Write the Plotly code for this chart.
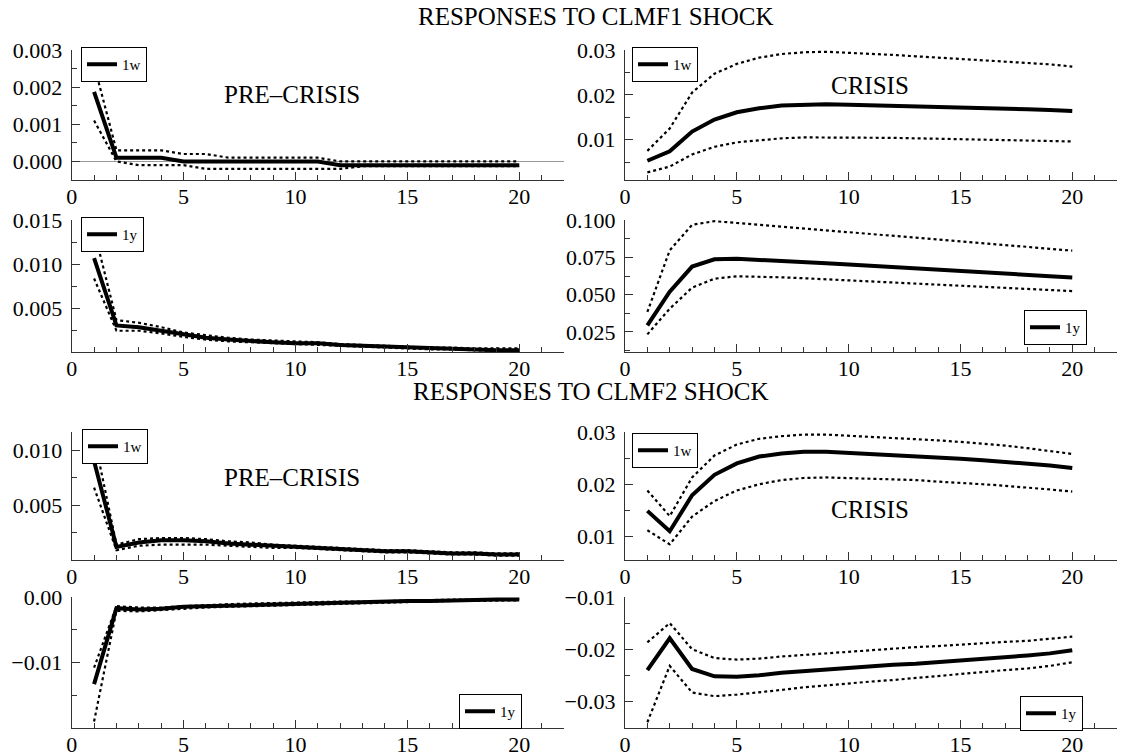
import plotly.graph_objects as go

horizon = list(range(1, 21))

# CLMF1 shock, pre-crisis, 1w
p1_mid = [0.00187, 0.0001, 0.0001, 0.0001, 0.0, 0.0, 0.0, 0.0, 0.0, 0.0, 0.0, -0.0001, -0.0001, -0.0001, -0.0001, -0.0001, -0.0001, -0.0001, -0.0001, -0.0001]
p1_up = [0.0026, 0.0003, 0.0003, 0.0003, 0.0002, 0.0002, 0.0001, 0.0001, 0.0001, 0.0001, 0.0001, 0.0, 0.0, 0.0, 0.0, 0.0, 0.0, 0.0, 0.0, 0.0]
p1_lo = [0.0011, 0.0, -0.0001, -0.0001, -0.0001, -0.0002, -0.0002, -0.0002, -0.0002, -0.0002, -0.0002, -0.0002, -0.00013, -0.00013, -0.00013, -0.00013, -0.00013, -0.00013, -0.00013, -0.00013]
# CLMF1 shock, crisis, 1w
p2_mid = [0.0053, 0.0074, 0.0118, 0.0145, 0.0161, 0.0170, 0.0176, 0.0178, 0.0179, 0.0178, 0.0177, 0.0176, 0.0175, 0.0174, 0.0173, 0.0171, 0.0170, 0.0168, 0.0166, 0.0164]
p2_up = [0.0075, 0.0125, 0.0205, 0.0247, 0.0269, 0.0283, 0.0291, 0.0295, 0.0296, 0.0294, 0.0292, 0.0289, 0.0286, 0.0283, 0.0281, 0.0278, 0.0275, 0.0272, 0.0268, 0.0263]
p2_lo = [0.0027, 0.0040, 0.0067, 0.0084, 0.0094, 0.0099, 0.0103, 0.0105, 0.0105, 0.0105, 0.0104, 0.0104, 0.0103, 0.0102, 0.0101, 0.0100, 0.0099, 0.0098, 0.0097, 0.0096]
# CLMF1 shock, pre-crisis, 1y
p3_mid = [0.0107, 0.0031, 0.0029, 0.0025, 0.0020, 0.0017, 0.0015, 0.0013, 0.0012, 0.0011, 0.0011, 0.0009, 0.0008, 0.0007, 0.0006, 0.0005, 0.0005, 0.0004, 0.0003, 0.0003]
p3_up = [0.0138, 0.0037, 0.0034, 0.0029, 0.0023, 0.0020, 0.0017, 0.0015, 0.0014, 0.0013, 0.0012, 0.0010, 0.0009, 0.0008, 0.0007, 0.0006, 0.0006, 0.0005, 0.0005, 0.0005]
p3_lo = [0.0084, 0.0025, 0.0025, 0.0022, 0.0018, 0.0015, 0.0013, 0.0012, 0.0011, 0.0010, 0.0009, 0.0008, 0.0007, 0.0006, 0.0005, 0.0004, 0.0004, 0.0003, 0.0002, 0.0002]
# CLMF1 shock, crisis, 1y
p4_mid = [0.0295, 0.0520, 0.0688, 0.0737, 0.0740, 0.0734, 0.0726, 0.0718, 0.0710, 0.0702, 0.0694, 0.0686, 0.0678, 0.0670, 0.0660, 0.0651, 0.0642, 0.0633, 0.0624, 0.0615]
p4_up = [0.0384, 0.0797, 0.0968, 0.0992, 0.0980, 0.0968, 0.0955, 0.0943, 0.0931, 0.0918, 0.0906, 0.0894, 0.0881, 0.0869, 0.0857, 0.0844, 0.0832, 0.0820, 0.0807, 0.0795]
p4_lo = [0.0234, 0.0406, 0.0547, 0.0607, 0.0623, 0.0621, 0.0616, 0.0610, 0.0603, 0.0596, 0.0589, 0.0582, 0.0575, 0.0568, 0.0561, 0.0554, 0.0547, 0.0540, 0.0532, 0.0524]
# CLMF2 shock, pre-crisis, 1w
p5_mid = [0.0090, 0.0012, 0.0016, 0.0018, 0.0018, 0.0017, 0.0015, 0.0014, 0.0013, 0.0012, 0.0011, 0.0010, 0.0009, 0.0008, 0.0008, 0.0007, 0.0006, 0.0006, 0.0005, 0.0005]
p5_up = [0.0112, 0.0014, 0.0019, 0.0020, 0.0020, 0.0019, 0.0017, 0.0016, 0.0014, 0.0013, 0.0012, 0.0011, 0.0010, 0.0009, 0.0009, 0.0008, 0.0007, 0.0007, 0.0006, 0.0006]
p5_lo = [0.0066, 0.0009, 0.0013, 0.0014, 0.0014, 0.0014, 0.0013, 0.0012, 0.0011, 0.0011, 0.0010, 0.0009, 0.0008, 0.0007, 0.0007, 0.0006, 0.0005, 0.0005, 0.0004, 0.0004]
# CLMF2 shock, crisis, 1w
p6_mid = [0.0149, 0.0110, 0.0179, 0.0218, 0.0240, 0.0253, 0.0259, 0.0262, 0.0262, 0.0260, 0.0258, 0.0256, 0.0254, 0.0251, 0.0249, 0.0246, 0.0243, 0.0240, 0.0236, 0.0231]
p6_up = [0.0188, 0.0139, 0.0213, 0.0255, 0.0276, 0.0287, 0.0292, 0.0295, 0.0295, 0.0293, 0.0291, 0.0289, 0.0287, 0.0284, 0.0281, 0.0278, 0.0274, 0.0269, 0.0264, 0.0258]
p6_lo = [0.0112, 0.0085, 0.0138, 0.0168, 0.0188, 0.0200, 0.0208, 0.0212, 0.0213, 0.0212, 0.0211, 0.0210, 0.0208, 0.0205, 0.0203, 0.0200, 0.0197, 0.0194, 0.0190, 0.0186]
# CLMF2 shock, pre-crisis, 1y
p7_mid = [-0.0133, -0.0017, -0.0019, -0.0018, -0.0015, -0.0014, -0.0013, -0.0012, -0.0011, -0.0010, -0.0009, -0.0009, -0.0008, -0.0007, -0.0006, -0.0006, -0.0005, -0.0004, -0.0004, -0.0004]
p7_up = [-0.0108, -0.0014, -0.0016, -0.0016, -0.0014, -0.0012, -0.0011, -0.0010, -0.0009, -0.0009, -0.0008, -0.0007, -0.0007, -0.0006, -0.0005, -0.0005, -0.0004, -0.0004, -0.0003, -0.0003]
p7_lo = [-0.0190, -0.0021, -0.0022, -0.0020, -0.0017, -0.0016, -0.0015, -0.0014, -0.0013, -0.0012, -0.0011, -0.0010, -0.0009, -0.0008, -0.0008, -0.0007, -0.0006, -0.0006, -0.0005, -0.0005]
# CLMF2 shock, crisis, 1y
p8_mid = [-0.0240, -0.0179, -0.0238, -0.0252, -0.0253, -0.0250, -0.0245, -0.0242, -0.0238, -0.0235, -0.0233, -0.0230, -0.0228, -0.0225, -0.0222, -0.0218, -0.0215, -0.0212, -0.0208, -0.0202]
p8_up = [-0.0187, -0.0150, -0.0200, -0.0217, -0.0220, -0.0218, -0.0214, -0.0211, -0.0207, -0.0204, -0.0201, -0.0199, -0.0196, -0.0194, -0.0191, -0.0189, -0.0186, -0.0184, -0.0180, -0.0176]
p8_lo = [-0.0340, -0.0232, -0.0283, -0.0290, -0.0287, -0.0283, -0.0278, -0.0273, -0.0269, -0.0265, -0.0262, -0.0259, -0.0255, -0.0251, -0.0248, -0.0244, -0.0240, -0.0237, -0.0232, -0.0225]

series_names = ["1w", "1w", "1y", "1y", "1w", "1w", "1y", "1y"]
section_titles = ["RESPONSES TO CLMF1 SHOCK", "RESPONSES TO CLMF2 SHOCK"]
period_labels = ["PRE\u2013CRISIS", "CRISIS"]

x_ticks = [0, 5, 10, 15, 20]

panels = [
    (p1_mid, p1_up, p1_lo),
    (p2_mid, p2_up, p2_lo),
    (p3_mid, p3_up, p3_lo),
    (p4_mid, p4_up, p4_lo),
    (p5_mid, p5_up, p5_lo),
    (p6_mid, p6_up, p6_lo),
    (p7_mid, p7_up, p7_lo),
    (p8_mid, p8_up, p8_lo),
]

y_ranges = [
    [-0.0005, 0.003], [0.001, 0.03],
    [0.0001, 0.015], [0.0116, 0.1],
    [0.0, 0.01167], [0.0055, 0.03],
    [-0.02, 0.0], [-0.0351, -0.01],
]
y_ticks = [
    [0.0, 0.001, 0.002, 0.003], [0.01, 0.02, 0.03],
    [0.005, 0.010, 0.015], [0.025, 0.050, 0.075, 0.100],
    [0.005, 0.010], [0.01, 0.02, 0.03],
    [-0.01, 0.0], [-0.03, -0.02, -0.01],
]
y_fmt = [".3f", ".2f", ".3f", ".3f", ".3f", ".2f", ".2f", ".2f"]
y_minor = [0.0005, 0.005, 0.0025, 0.0125, 0.0025, 0.005, 0.005, 0.005]

W, H = 1123, 756
col_px = [(71.7, 564), (625, 1117)]
row_px = [(50, 180), (220, 352), (432, 560), (597, 728)]

legend_pos = [
    dict(x=81 / W, y=1 - 47 / H, xanchor="left", yanchor="top"),
    dict(x=632 / W, y=1 - 47 / H, xanchor="left", yanchor="top"),
    dict(x=81 / W, y=1 - 217 / H, xanchor="left", yanchor="top"),
    dict(x=1087 / W, y=1 - 345 / H, xanchor="right", yanchor="bottom"),
    dict(x=82 / W, y=1 - 429 / H, xanchor="left", yanchor="top"),
    dict(x=632 / W, y=1 - 433 / H, xanchor="left", yanchor="top"),
    dict(x=522 / W, y=1 - 729 / H, xanchor="right", yanchor="bottom"),
    dict(x=1083 / W, y=1 - 731 / H, xanchor="right", yanchor="bottom"),
]

FONT = "Liberation Serif"
TICK_SIZE = 22
TEXT_SIZE = 25
fig = go.Figure()
layout = dict(
    template="none",
    width=W, height=H,
    margin=dict(l=0, r=0, t=0, b=0, pad=0, autoexpand=False),
    paper_bgcolor="white", plot_bgcolor="white",
    font=dict(family=FONT, size=TICK_SIZE, color="black"),
    showlegend=True,
)

for i, (mid, up, lo) in enumerate(panels):
    k = i + 1
    xa = "x" if k == 1 else f"x{k}"
    ya = "y" if k == 1 else f"y{k}"
    lg = "legend" if k == 1 else f"legend{k}"
    for band in (up, lo):
        fig.add_trace(go.Scatter(x=horizon, y=band, mode="lines", xaxis=xa, yaxis=ya,
                                 line=dict(color="black", width=2.2, dash="dot"),
                                 showlegend=False, hoverinfo="skip", legend=lg))
    fig.add_trace(go.Scatter(x=horizon, y=mid, mode="lines", xaxis=xa, yaxis=ya,
                             line=dict(color="black", width=4), name=series_names[i],
                             showlegend=True, legend=lg))
    r, c = divmod(i, 2)
    x0, x1 = col_px[c]
    yt, yb = row_px[r]
    layout["xaxis" if k == 1 else f"xaxis{k}"] = dict(
        domain=[x0 / W, x1 / W], anchor=ya, range=[0, 22], automargin=False,
        tickvals=x_ticks, ticks="inside", ticklen=8, tickcolor="#333", tickwidth=1,
        minor=dict(dtick=1, tick0=0, ticks="inside", ticklen=5, tickcolor="#333", tickwidth=1),
        showline=True, linecolor="#333", linewidth=1.2,
        showgrid=False, zeroline=False, ticklabelstandoff=-4,
        tickfont=dict(family=FONT, size=TICK_SIZE, color="black"),
    )
    layout["yaxis" if k == 1 else f"yaxis{k}"] = dict(
        domain=[1 - yb / H, 1 - yt / H], anchor=xa, range=y_ranges[i], automargin=False,
        tickvals=y_ticks[i], tickformat=y_fmt[i], ticks="inside", ticklen=8, tickcolor="#333", tickwidth=1,
        minor=dict(dtick=y_minor[i], ticks="inside", ticklen=5, tickcolor="#333", tickwidth=1),
        showline=True, linecolor="#333", linewidth=1.2,
        showgrid=False, zeroline=(k == 1), zerolinecolor="#999", zerolinewidth=1,
        ticklabelstandoff=4,
        tickfont=dict(family=FONT, size=TICK_SIZE, color="black"),
    )
    layout[lg] = dict(**legend_pos[i], bgcolor="white", bordercolor="black", borderwidth=1,
                      font=dict(family=FONT, size=15, color="black"),
                      itemwidth=30, tracegroupgap=0)

fig.update_layout(**layout)

annotations = [
    dict(text=section_titles[0], x=595 / W, y=1 - 17 / H, xref="paper", yref="paper",
         xanchor="center", yanchor="middle", showarrow=False, font=dict(family=FONT, size=TEXT_SIZE)),
    dict(text=section_titles[1], x=590 / W, y=1 - 391 / H, xref="paper", yref="paper",
         xanchor="center", yanchor="middle", showarrow=False, font=dict(family=FONT, size=TEXT_SIZE)),
    dict(text=period_labels[0], x=9.85, y=0.0018, xref="x", yref="y",
         showarrow=False, font=dict(family=FONT, size=TEXT_SIZE)),
    dict(text=period_labels[1], x=10.95, y=0.022, xref="x2", yref="y2",
         showarrow=False, font=dict(family=FONT, size=TEXT_SIZE)),
    dict(text=period_labels[0], x=9.85, y=0.0075, xref="x5", yref="y5",
         showarrow=False, font=dict(family=FONT, size=TEXT_SIZE)),
    dict(text=period_labels[1], x=10.95, y=0.0151, xref="x6", yref="y6",
         showarrow=False, font=dict(family=FONT, size=TEXT_SIZE)),
]
fig.update_layout(annotations=annotations)

fig.write_html("out.html", config={"displayModeBar": False},
               post_script="document.body.style.margin='0px';document.body.style.padding='0px';")
